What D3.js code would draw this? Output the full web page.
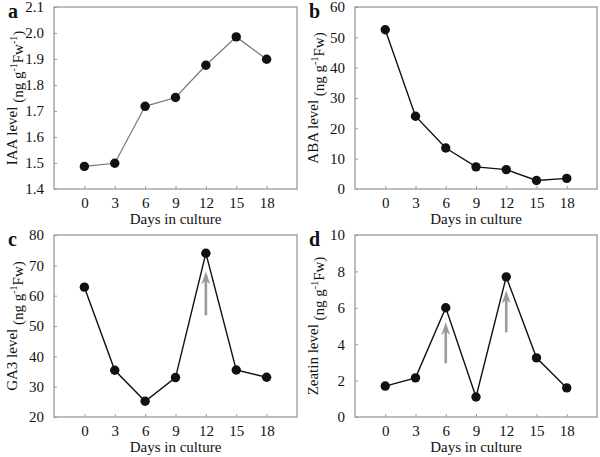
<!DOCTYPE html>
<html>
<head>
<meta charset="utf-8">
<script src="https://cdn.jsdelivr.net/npm/d3@7"></script>
<style>
  body { margin: 0; background: #fff; }
  text { font-family: "Liberation Serif", "Times New Roman", serif; fill: #111; }
</style>
</head>
<body>
<div id="chart"></div>
<script>
const days = [0, 3, 6, 9, 12, 15, 18]
const iaa = [1.487, 1.499, 1.718, 1.752, 1.876, 1.985, 1.899]
const aba = [52.5, 24.0, 13.5, 7.3, 6.4, 2.8, 3.5]
const ga3 = [62.8, 35.4, 25.2, 33.0, 74.0, 35.5, 33.1]
const zeatin = [1.7, 2.15, 6.0, 1.1, 7.7, 3.25, 1.6]

const iaaTicks = [1.4, 1.5, 1.6, 1.7, 1.8, 1.9, 2.0, 2.1]
const abaTicks = [0, 10, 20, 30, 40, 50, 60]
const ga3Ticks = [20, 30, 40, 50, 60, 70, 80]
const zeatinTicks = [0, 2, 4, 6, 8, 10]

// arrows: [day, from, to]
const ga3Arrows = [[12, 53.5, 68]]
const zeatinArrows = [[6, 2.95, 5.2], [12, 4.65, 6.95]]

const svg = d3.select('#chart')
  .append('svg')
  .attr('width', 600)
  .attr('height', 457)

const panels = [
  { letter: 'a', name: 'IAA', unit: ['(ng g', '-1', 'Fw', '-1', ')'], values: iaa, ticks: iaaTicks, fmt: d3.format('.1f'), arrows: [], lineColor: '#777', lineWidth: 1.2, x0: 54, x1: 297, y0: 7, y1: 189 },
  { letter: 'b', name: 'ABA', unit: ['(ng g', '-1', 'Fw)'], values: aba, ticks: abaTicks, fmt: d3.format('d'), arrows: [], lineColor: '#111', lineWidth: 1.4, x0: 355, x1: 597, y0: 7, y1: 189 },
  { letter: 'c', name: 'GA3', unit: ['(ng g', '-1', 'Fw)'], values: ga3, ticks: ga3Ticks, fmt: d3.format('d'), arrows: ga3Arrows, lineColor: '#111', lineWidth: 1.4, x0: 54, x1: 297, y0: 235, y1: 417 },
  { letter: 'd', name: 'Zeatin', unit: ['(ng g', '-1', 'Fw)'], values: zeatin, ticks: zeatinTicks, fmt: d3.format('d'), arrows: zeatinArrows, lineColor: '#111', lineWidth: 1.4, x0: 355, x1: 597, y0: 235, y1: 417 }
]

panels.forEach(p => {
  const x = d3.scaleLinear().domain([-3, 21]).range([p.x0, p.x1])
  const y = d3.scaleLinear().domain([p.ticks[0], p.ticks[p.ticks.length - 1]]).range([p.y1, p.y0])
  const g = svg.append('g')

  // frame
  g.append('rect')
    .attr('x', p.x0).attr('y', p.y0)
    .attr('width', p.x1 - p.x0).attr('height', p.y1 - p.y0)
    .attr('fill', 'none').attr('stroke', '#9a9a9a').attr('stroke-width', 1.3)

  const yAxis = d3.axisLeft(y).tickValues(p.ticks).tickFormat(p.fmt).tickSizeInner(-3).tickSizeOuter(0).tickPadding(10)
  g.append('g')
    .attr('transform', `translate(${p.x0},0)`)
    .call(yAxis)
    .call(a => a.select('.domain').remove())
    .call(a => a.selectAll('line').attr('stroke', '#9a9a9a'))
    .call(a => a.selectAll('text').style('font-size', '15px').attr('fill', '#111'))

  const xAxis = d3.axisBottom(x).tickValues(days).tickFormat(d3.format('d')).tickSizeInner(-3).tickSizeOuter(0).tickPadding(8)
  g.append('g')
    .attr('transform', `translate(0,${p.y1})`)
    .call(xAxis)
    .call(a => a.select('.domain').remove())
    .call(a => a.selectAll('line').attr('stroke', '#9a9a9a'))
    .call(a => a.selectAll('text').style('font-size', '15px').attr('fill', '#111'))

  g.append('text')
    .attr('x', (p.x0 + p.x1) / 2)
    .attr('y', p.y1 + 35)
    .attr('text-anchor', 'middle')
    .style('font-size', '15px')
    .text('Days in culture')

  // y title with superscripts
  const yt = g.append('text')
    .attr('transform', `translate(${p.x0 - 37},${(p.y0 + p.y1) / 2}) rotate(-90)`)
    .attr('text-anchor', 'middle')
    .style('font-size', '15px')
  yt.append('tspan').text(p.name + ' level ')
  p.unit.forEach(u => {
    if (u === '-1') {
      yt.append('tspan').attr('dy', -6).style('font-size', '10px').text(u)
    } else {
      yt.append('tspan').attr('dy', yt.selectAll('tspan').size() > 1 ? 6 : 0).text(u)
    }
  })

  g.append('text')
    .attr('x', p.x0 - 46)
    .attr('y', p.y0 + 11)
    .style('font-size', '20px')
    .style('font-weight', 'bold')
    .text(p.letter)

  // arrows
  p.arrows.forEach(([d, from, to]) => {
    const ax = x(d)
    g.append('line')
      .attr('x1', ax).attr('x2', ax)
      .attr('y1', y(from)).attr('y2', y(to) + 8)
      .attr('stroke', '#9a9a9a').attr('stroke-width', 2.6)
    g.append('path')
      .attr('d', `M${ax},${y(to)} L${ax - 4.5},${y(to) + 13} L${ax},${y(to) + 9} L${ax + 4.5},${y(to) + 13} Z`)
      .attr('fill', '#9a9a9a')
  })

  const line = d3.line().x((d, i) => x(days[i])).y(d => y(d))
  g.append('path')
    .datum(p.values)
    .attr('d', line)
    .attr('fill', 'none')
    .attr('stroke', p.lineColor)
    .attr('stroke-width', p.lineWidth)

  g.selectAll('circle')
    .data(p.values)
    .enter()
    .append('circle')
    .attr('cx', (d, i) => x(days[i]))
    .attr('cy', d => y(d))
    .attr('r', 4.7)
    .attr('fill', '#111')
})
</script>
</body>
</html>
